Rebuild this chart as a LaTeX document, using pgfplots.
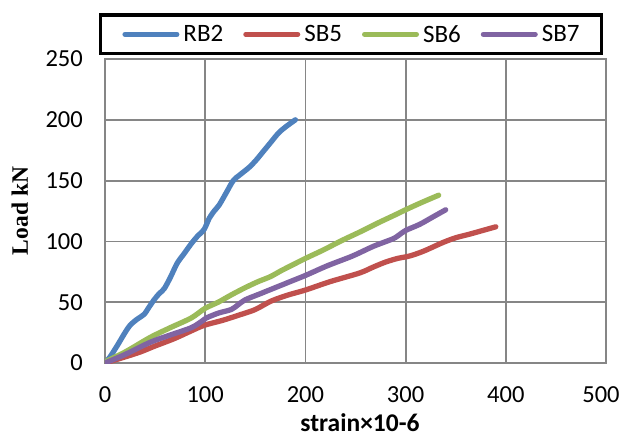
\documentclass[border=0pt]{standalone}
\usepackage{fontspec}
\setmainfont{Carlito}
\newfontfamily\timesfont{Liberation Serif}
\usepackage{pgfplots}
\pgfplotsset{compat=1.18}
\definecolor{cRB}{HTML}{4F81BD}
\definecolor{cSB5}{HTML}{C0504D}
\definecolor{cSB6}{HTML}{9BBB59}
\definecolor{cSB7}{HTML}{8064A2}
\definecolor{gridc}{RGB}{134,134,134}
\begin{document}
\begin{tikzpicture}
\begin{axis}[
 at={(0pt,0pt)}, anchor=south west,
 scale only axis, width=501pt, height=304pt,
 xmin=0, xmax=500, ymin=0, ymax=250,
 xtick={0,100,200,300,400,500}, ytick={0,50,...,250},
 xticklabels={0,100,200,300,400,\hspace*{-10pt}500},
 grid=major, major grid style={gridc, line width=1.8pt},
 axis line style={gridc, line width=1.8pt},
 major tick length=0pt,
 /pgf/number format/assume math mode=true,
 tick label style={font=\fontsize{24.5}{29}\selectfont},
 yticklabel style={anchor=east, inner sep=0pt, xshift=-22pt},
 xticklabel style={anchor=north, inner sep=0pt, yshift=-23pt},
 xlabel={\bfseries strain×10-6},
 xlabel style={at={(axis description cs:0.509,-0.197)}, anchor=center, font=\fontsize{25.5}{30}\selectfont},
 ylabel={\timesfont\bfseries Load kN},
 ylabel style={at={(axis description cs:-0.17,0.5)}, anchor=center, font=\fontsize{23.5}{28}\selectfont},
 legend columns=4,
 legend style={at={(0.491,1)}, anchor=south, yshift=3.75pt, draw=black, line width=3.5pt,
   font=\fontsize{25}{30}\selectfont, inner xsep=22pt, inner ysep=10pt,
   nodes={inner sep=0pt},
   /tikz/every odd column/.append style={column sep=4pt},
   /tikz/every even column/.append style={column sep=20pt}},
 legend image code/.code={\draw[#1, line width=5pt, line cap=round] (0pt,0pt) -- (52pt,0pt);},
 every axis plot/.append style={line width=5.3pt, line cap=round, line join=round, smooth},
]
\addplot[cRB] coordinates {(0,0) (5,5) (12,14) (20,25) (25,31) (32,36) (39,40) (44,46) (49,52) (54,57) (59,61) (65,70) (72,82) (79,90) (86,98) (92,104) (99,110) (104,119) (109,125) (114,130) (121,140) (128,150) (135,155) (144,161) (151,167) (158,174) (165,181) (173,189) (180,194) (190,200)};
\addlegendentry{RB2}
\addplot[cSB5] coordinates {(0,0) (20,5) (35,9) (50,14) (69,20) (85,26) (99,31) (117,35) (136,40) (150,44) (166,51) (183,56) (200,60) (225,67) (254,74) (268,79) (280,83) (292,86) (304,88) (318,92) (337,99) (350,103) (364,106) (377,109) (390,112)};
\addlegendentry{SB5}
\addplot[cSB6] coordinates {(0,1) (20,9) (45,21) (65,29) (86,37) (100,45) (113,50) (126,56) (140,62) (153,67) (165,71) (176,76) (188,81) (200,86) (218,93) (237,101) (255,108) (272,115) (290,122) (300,126) (316,132) (333,138)};
\addlegendentry{SB6}
\addplot[cSB7] coordinates {(0,0) (20,7) (45,17) (65,23) (86,29) (96,34) (101,37) (113,41) (126,44) (133,48) (140,52) (155,57) (170,62) (185,67) (200,72) (222,80) (247,88) (268,96) (287,102) (293,105) (300,109) (314,114) (327,120) (340,126)};
\addlegendentry{SB7}
\end{axis}
\pgfresetboundingbox
\path[use as bounding box] (-105pt,-74pt) rectangle (516pt,363pt);
\end{tikzpicture}
\end{document}
